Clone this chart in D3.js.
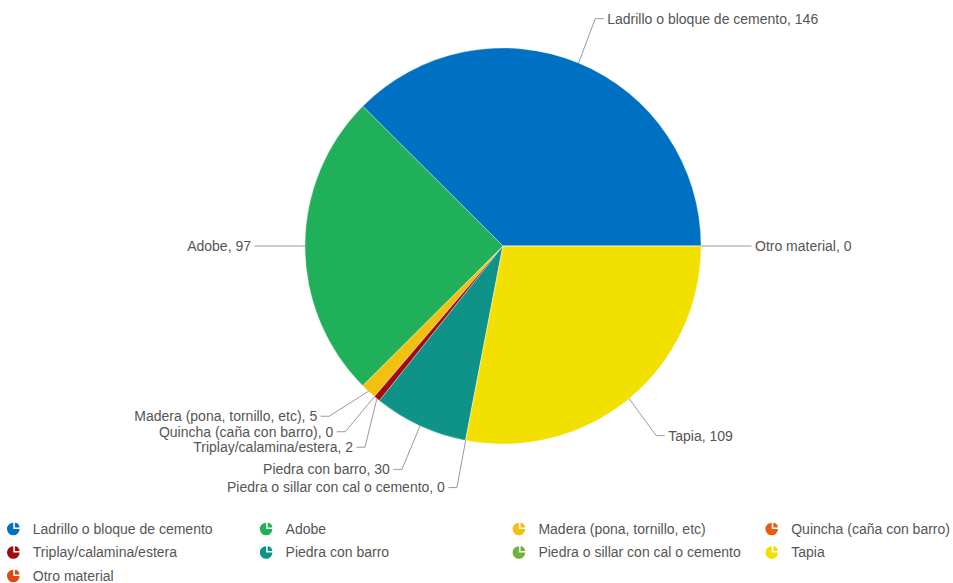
<!DOCTYPE html>
<html><head><meta charset="utf-8">
<script src="https://cdn.jsdelivr.net/npm/d3@7"></script>
<style>body{margin:0;background:#fff;overflow:hidden} text{font-family:"Liberation Sans",Arial,sans-serif}</style>
</head><body><svg id="c" width="953" height="583"></svg>
<script>
const categories = ["Ladrillo o bloque de cemento","Adobe","Madera (pona, tornillo, etc)","Quincha (caña con barro)","Triplay/calamina/estera","Piedra con barro","Piedra o sillar con cal o cemento","Tapia","Otro material"];
const values = [146,97,5,0,2,30,0,109,0];
const colors = ["#0070c3","#20b05a","#f2c010","#ee5a0e","#a20b0b","#0f9388","#6fb33a","#f2e000","#dc4a14"];

const W=953, H=583, cx=503, cy=246, r=198, R=239, gap=13, sp=15.5;
const svg = d3.select("#c");
const data = categories.map((c,i)=>({name:c, value:values[i], color:colors[i], i}));
const pie = d3.pie().value(d=>d.value).sort(null).startAngle(Math.PI/2).endAngle(Math.PI/2-2*Math.PI);
const arcs = pie(data);
const arc = d3.arc().innerRadius(0).outerRadius(r);

const g = svg.append("g").attr("transform",`translate(${cx},${cy})`);
g.selectAll("path").data(arcs).join("path")
  .attr("d",arc).attr("fill",d=>d.data.color)
  .attr("stroke","#fff").attr("stroke-width",0.5).attr("stroke-opacity",0.6);

// labels
const labels = arcs.map(a=>{
  const m=(a.startAngle+a.endAngle)/2;
  const s=Math.sin(m), c=Math.cos(m);
  const shift = -c*7;
  return {a, m, s, c, shift, side: s>=-1e-9?1:-1, y0: cy - R*c + shift, text: a.data.name+", "+a.data.value};
});
labels.forEach(l=>{ if(Math.abs(l.s)<1e-9) l.side=1; });
function resolve(items){
  items.sort((a,b)=>a.y0-b.y0);
  let cl = items.map(it=>({items:[it], c:it.y0}));
  let merged=true;
  while(merged){
    merged=false;
    for(let i=0;i<cl.length-1;i++){
      const a=cl[i], b=cl[i+1];
      const aB=a.c+(a.items.length-1)*sp/2, bT=b.c-(b.items.length-1)*sp/2;
      if(bT-aB<sp){
        const its=a.items.concat(b.items);
        cl.splice(i,2,{items:its, c:d3.mean(its,d=>d.y0)});
        merged=true; break;
      }
    }
  }
  cl.forEach(k=>k.items.forEach((it,j)=>it.y=k.c+(j-(k.items.length-1)/2)*sp));
}
resolve(labels.filter(l=>l.side>0));
resolve(labels.filter(l=>l.side<0));
labels.forEach(l=>{
  const dy = l.y - l.shift - cy;
  const xo = Math.sqrt(Math.max(0,R*R-dy*dy));
  l.x = cx + l.side*(xo+gap);
  const ex = cx + r*l.s, ey = cy - r*l.c;
  const pts = [[ex,ey],[l.x - l.side*12, l.y],[l.x - l.side*3.5, l.y]];
  svg.append("path").attr("d",d3.line()(pts)).attr("fill","none").attr("stroke","#9a9a9a").attr("stroke-width",1);
  svg.append("text").attr("x",l.x).attr("y",l.y).attr("dy","0.35em")
    .attr("text-anchor",l.side>0?"start":"end").attr("font-size",14).attr("fill","#555").text(l.text);
});

// legend
const colW=252.8, x0=13.3, yL0=529, rowH=23.5;
const iconMain=d3.arc().innerRadius(0).outerRadius(6.3).startAngle(Math.PI/2).endAngle(2*Math.PI);
const iconWedge=d3.arc().innerRadius(0).outerRadius(4.6).startAngle(0).endAngle(Math.PI/2);
const lg = svg.append("g").selectAll("g").data(data).join("g")
  .attr("transform",(d,i)=>`translate(${x0+(i%4)*colW},${yL0+Math.floor(i/4)*rowH})`);
lg.append("path").attr("d",iconMain).attr("fill",d=>d.color);
lg.append("path").attr("d",iconWedge).attr("transform","translate(1.6,-1.6)").attr("fill",d=>d.color);
lg.append("text").attr("x",19.5).attr("dy","0.35em").attr("font-size",14).attr("fill","#555").text(d=>d.name);
</script></body></html>
